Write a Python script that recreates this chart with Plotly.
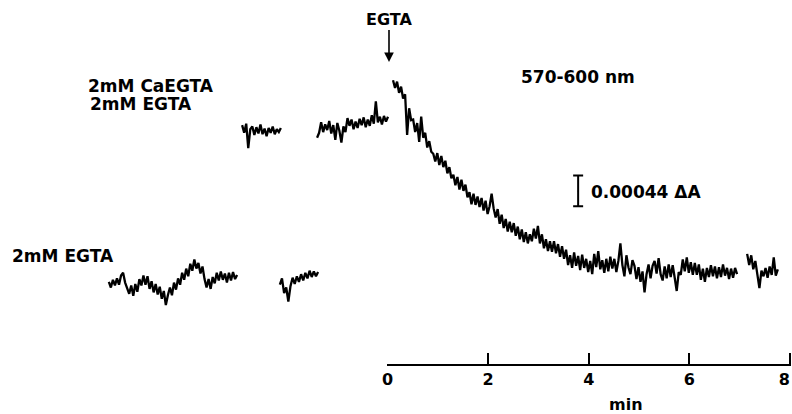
import numpy as np
import plotly.graph_objects as go

# ---------------- data (ΔA in units of 1e-4, time in min; t=0 = EGTA addition) -------------
# 2 mM EGTA baseline (two recording pieces)
egta_a_t = (-5.54, -2.99)
egta_a = [11.8, 11.0, 12.1, 11.3, 12.3, 11.4, 12.7, 13.1, 11.7, 10.8,
          10.1, 11.3, 9.8, 11.5, 10.4, 12.2, 11.3, 12.7, 11.4, 12.6,
          10.8, 11.9, 10.3, 11.5, 10.0, 11.1, 9.4, 10.5, 8.5, 9.9,
          11.0, 9.9, 11.7, 10.7, 12.3, 11.4, 13.1, 12.1, 13.7, 12.6,
          14.4, 13.4, 15.0, 13.7, 14.5, 13.0, 14.0, 12.2, 11.0, 12.2,
          10.8, 12.5, 11.6, 13.1, 12.0, 13.3, 12.1, 13.0, 11.7, 13.1,
          12.0, 13.2, 12.2, 12.8]
egta_b_t = (-2.14, -1.38)
egta_b = [11.4, 12.3, 10.2, 11.0, 9.0, 11.2, 12.4, 11.5, 12.6, 11.8,
          12.9, 12.0, 13.1, 12.3, 13.4, 12.5, 13.3, 12.6, 13.2]

# 2 mM CaEGTA + 2 mM EGTA baseline (two recording pieces)
ca_c_t = (-2.89, -2.12)
ca_c = [34.2, 33.1, 34.4, 30.9, 33.6, 34.0, 32.8, 33.9, 33.0, 34.3,
        32.9, 33.7, 32.6, 33.8, 33.1, 34.0, 32.9, 33.6, 33.2, 33.8]
ca_d_t = (-1.40, 0.01)
ca_d = [32.4, 33.1, 34.6, 33.2, 34.3, 33.5, 34.8, 33.0, 34.2, 32.1,
        34.5, 33.4, 31.7, 34.0, 33.2, 35.2, 34.1, 35.0, 33.6, 34.7,
        33.8, 35.1, 34.2, 35.3, 33.9, 35.0, 34.1, 35.6, 34.4, 37.6,
        34.6, 35.4, 34.3, 35.5, 34.7, 35.4]

# decay after EGTA addition
decay_t = (0.11, 6.95)
decay = [40.6, 39.5, 40.4, 38.8, 39.7, 38.0, 38.6, 32.8, 36.6, 34.9,
         35.0, 33.2, 34.5, 31.8, 35.4, 32.4, 33.1, 31.0, 31.9, 30.4,
         30.1, 29.0, 30.2, 28.5, 29.8, 28.2, 29.1, 27.3, 28.2, 26.6,
         27.1, 25.6, 26.8, 25.0, 26.4, 24.8, 25.7, 23.9, 24.6, 22.9,
         24.4, 22.8, 24.0, 22.5, 23.8, 22.0, 23.4, 21.5, 22.6, 24.4,
         22.3, 21.0, 22.2, 20.1, 21.4, 19.5, 20.8, 19.0, 20.4, 18.9,
         20.2, 18.4, 19.7, 17.9, 19.3, 17.5, 18.9, 17.3, 18.6, 17.6,
         19.4, 18.0, 19.8, 17.3, 18.6, 16.6, 17.9, 16.2, 17.6, 16.1,
         17.6, 15.9, 17.2, 15.4, 16.9, 15.1, 16.4, 14.2, 15.6, 13.8,
         16.0, 14.1, 15.5, 13.5, 15.7, 13.8, 15.1, 13.2, 14.8, 12.9,
         15.8, 13.9, 16.2, 13.6, 14.9, 13.1, 15.1, 13.3, 15.4, 13.7,
         15.1, 13.2, 14.8, 17.3, 14.2, 12.6, 15.6, 13.9, 12.9, 14.9,
         14.1, 12.2, 13.9, 11.8, 13.3, 10.3, 12.9, 14.3, 12.3, 14.1,
         14.8, 13.0, 15.2, 12.9, 12.0, 14.0, 12.3, 14.3, 12.5, 14.2,
         12.4, 10.5, 13.2, 12.8, 15.0, 13.3, 15.3, 13.1, 14.6, 12.8,
         14.5, 12.8, 14.3, 12.1, 13.7, 11.8, 13.8, 12.5, 14.2, 12.6,
         14.0, 12.3, 13.9, 12.5, 14.3, 12.7, 13.8, 12.2, 13.7, 12.4,
         13.8, 12.9]
tail_t = (7.15, 7.76)
tail = [15.8, 14.2, 15.6, 13.6, 14.8, 12.9, 10.9, 13.4, 12.6, 13.8,
        12.4, 14.0, 12.8, 15.3, 12.7, 13.6]

# time axis ticks
tick_vals = [0, 2, 4, 6, 8]
tick_text = ["0", "2", "4", "6", "8&nbsp;&nbsp;"]

# scale bar: 0.00044 ΔA
scalebar_t = 3.79
scalebar_mid = 24.8
scalebar_len = 4.4

# ---------------- layout helpers (page pixel -> data) ----------------
W, H = 792, 414
PX0, PX_PER_MIN = 387.5, 50.3      # x pixel of t=0, pixels per minute
PY0, PY_PER_UNIT = 364.5, 7.0      # y pixel of ΔA=0, pixels per 1e-4 ΔA
AX_RANGE = (-0.005, 8.02)


def tx(px):
    return (px - PX0) / PX_PER_MIN


def vy(py):
    return (PY0 - py) / PY_PER_UNIT


FONT = "DejaVu Sans"
INK = "black"
CLEAR = "rgba(0,0,0,0)"

fig = go.Figure()

for (t0, t1), vals in [(egta_a_t, egta_a), (egta_b_t, egta_b), (ca_c_t, ca_c),
                       (ca_d_t, ca_d), (decay_t, decay), (tail_t, tail)]:
    fig.add_trace(go.Scatter(
        x=np.linspace(t0, t1, len(vals)), y=vals, mode="lines",
        line=dict(color=INK, width=2.3), showlegend=False, hoverinfo="skip"))

# scale bar as an I-beam (error bar)
fig.add_trace(go.Scatter(
    x=[scalebar_t], y=[scalebar_mid], mode="markers",
    marker=dict(size=1, color=INK),
    error_y=dict(type="constant", value=scalebar_len / 2, color=INK,
                 thickness=2, width=5),
    showlegend=False, hoverinfo="skip"))

# carrier for the visible time axis
fig.add_trace(go.Scatter(
    x=[tick_vals[0], tick_vals[-1]], y=[0, 0], xaxis="x2", yaxis="y",
    mode="markers", marker=dict(size=0.1, opacity=0),
    showlegend=False, hoverinfo="skip"))

ann_font = dict(family=FONT, size=17, color=INK, weight="bold")
annotations = [
    dict(text="2mM CaEGTA", x=tx(86), y=vy(86), xanchor="left", yanchor="middle",
         showarrow=False, font=ann_font),
    dict(text="2mM EGTA", x=tx(88), y=vy(104), xanchor="left", yanchor="middle",
         showarrow=False, font=ann_font),
    dict(text="2mM EGTA", x=tx(10), y=vy(256), xanchor="left", yanchor="middle",
         showarrow=False, font=ann_font),
    dict(text="570-600 nm", x=tx(519), y=vy(77), xanchor="left", yanchor="middle",
         showarrow=False, font=ann_font),
    dict(text="0.00044 ΔA", x=tx(589), y=vy(192), xanchor="left", yanchor="middle",
         showarrow=False, font=dict(family=FONT, size=17, color=INK, weight="bold")),
    dict(text="min", x=tx(626), y=vy(404), xanchor="center", yanchor="middle",
         showarrow=False, font=dict(family=FONT, size=16, color=INK, weight="bold")),
    dict(text="EGTA", x=tx(389), y=vy(62), ax=0, ay=-43, showarrow=True,
         arrowhead=2, arrowsize=1.2, arrowwidth=1.6, arrowcolor=INK, standoff=0,
         font=dict(family=FONT, size=16, color=INK, weight="bold")),
]

fig.update_layout(
    width=W, height=H,
    margin=dict(l=0, r=0, t=0, b=0, autoexpand=False),
    paper_bgcolor="white", plot_bgcolor=CLEAR,
    xaxis=dict(range=[tx(0), tx(W)], visible=False),
    yaxis=dict(range=[vy(H), vy(0)], visible=False),
    xaxis2=dict(domain=[(PX0 + AX_RANGE[0] * PX_PER_MIN) / W,
                        (PX0 + AX_RANGE[1] * PX_PER_MIN) / W],
                range=list(AX_RANGE),
                anchor="free", position=(H - PY0) / H,
                automargin=False,
                showline=True, linecolor=INK, linewidth=1.6,
                ticks="inside", ticklen=11, tickwidth=1.6, tickcolor=INK,
                tickvals=tick_vals, ticktext=tick_text,
                ticklabeloverflow="allow",
                showgrid=False, zeroline=False,
                tickfont=dict(family=FONT, size=16, color=INK, weight="bold")),
    annotations=annotations,
)

fig.write_html("out.html")
